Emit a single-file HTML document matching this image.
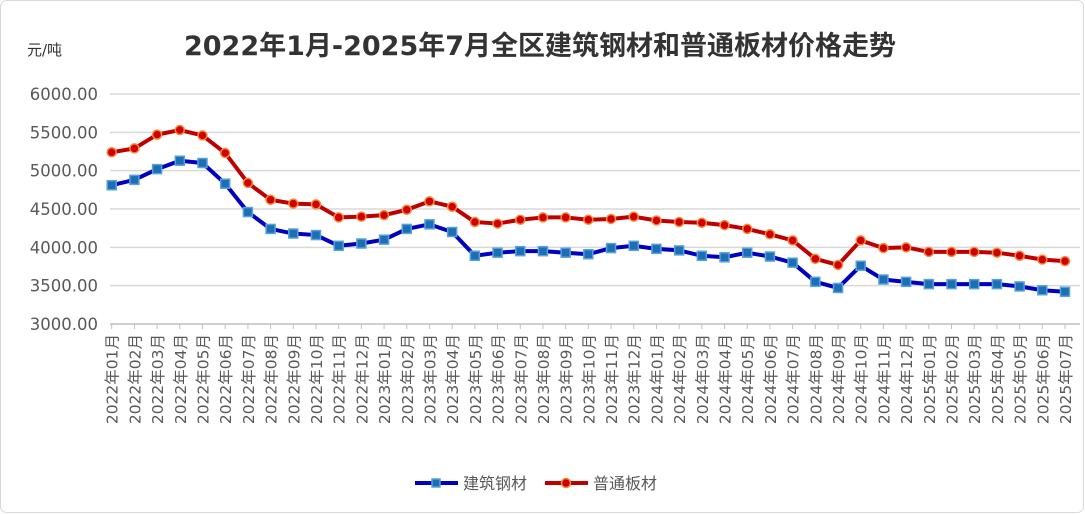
<!DOCTYPE html>
<html><head><meta charset="utf-8"><style>
body{margin:0;background:#fff}
svg{display:block;font-family:"DejaVu Sans","Noto Sans CJK SC",sans-serif}
</style></head><body>
<svg id="c" width="1085" height="514">
<rect x="0.5" y="0.5" width="1083" height="512" rx="6" fill="#fff" stroke="#d9d9d9"/>
<text x="540" y="55" text-anchor="middle" font-size="27" font-weight="bold" fill="#333">2022年1月-2025年7月全区建筑钢材和普通板材价格走势</text>
<text x="27" y="55" font-size="15" fill="#333">元/吨</text>
<g id="grid"></g><g id="xl"></g><g id="series"></g>
<g>
<g>
<line x1="415" y1="483" x2="458" y2="483" stroke="#0000c0" stroke-width="4"/>
<rect x="432" y="479" width="8" height="8" fill="#1a6fb5" stroke="#5aa0d8" stroke-width="1.5"/>
<text x="463" y="489" font-size="16" fill="#595959">建筑钢材</text></g>
<g>
<line x1="545" y1="483" x2="588" y2="483" stroke="#c00000" stroke-width="4"/>
<circle cx="566" cy="483" r="4.5" fill="#d00000" stroke="#f58a3a" stroke-width="1.5"/>
<text x="593" y="489" font-size="16" fill="#595959">普通板材</text></g>
</g>
</svg>
<script>
const categories=[];for(let y=2022;y<=2025;y++)for(let m=1;m<=12;m++){if(y===2025&&m>7)break;categories.push(y+'年'+String(m).padStart(2,'0')+'月');}
const rebar=[4810,4880,5020,5130,5100,4830,4460,4240,4180,4160,4020,4050,4100,4240,4300,4200,3890,3930,3950,3950,3930,3910,3990,4020,3980,3960,3890,3870,3930,3880,3800,3550,3470,3760,3580,3550,3520,3520,3520,3520,3490,3440,3420];
const plate=[5240,5290,5470,5530,5460,5230,4840,4620,4570,4560,4390,4400,4420,4490,4600,4530,4330,4310,4360,4390,4390,4360,4370,4400,4350,4330,4320,4290,4240,4170,4090,3850,3770,4090,3990,4000,3940,3940,3940,3930,3890,3840,3820];
const yTicks=[3000,3500,4000,4500,5000,5500,6000];
const NS='http://www.w3.org/2000/svg';
const X0=111.7,X1=1065,Y0=324,Y1=94,VMIN=3000,VMAX=6000;
const xs=i=>X0+i*(X1-X0)/(categories.length-1);
const ys=v=>Y0-(v-VMIN)/(VMAX-VMIN)*(Y0-Y1);
function mk(t,a,p){const e=document.createElementNS(NS,t);for(const k in a)e.setAttribute(k,a[k]);p.appendChild(e);return e;}
const grid=document.getElementById('grid');
yTicks.forEach(v=>{
 const l=mk('line',{x1:110,x2:1080,y1:ys(v),y2:ys(v),stroke:v===VMIN?'#bfbfbf':'#d9d9d9','stroke-width':1.5},grid);
 
 
 const t=mk('text',{x:98,y:ys(v)+6,'text-anchor':'end','font-size':16.5,fill:'#595959'},grid);
 t.textContent=v.toFixed(2);
 
 
});
const xl=document.getElementById('xl');
categories.forEach((c,i)=>{
 const x=xs(i);
 const tk=mk('line',{x1:x,x2:x,y1:Y0,y2:Y0+5,stroke:'#bfbfbf'},xl);
 
 
 const t=mk('text',{x:0,y:0,'text-anchor':'end','font-size':15.5,fill:'#595959',transform:`translate(${x+6},${Y0+10}) rotate(-90)`},xl);
 t.textContent=c;
 
 
});
const sg=document.getElementById('series');
function draw(data,color,name,square){
 const p=mk('polyline',{points:data.map((v,i)=>xs(i)+','+ys(v)).join(' '),fill:'none',stroke:color,'stroke-width':4,'stroke-linejoin':'round'},sg);
 
 
 data.forEach((v,i)=>{
  let m;
  if(square)m=mk('rect',{x:xs(i)-4.5,y:ys(v)-4.5,width:9,height:9,fill:'#1a6fb5',stroke:'#5aa0d8','stroke-width':1.5},sg);
  else m=mk('circle',{cx:xs(i),cy:ys(v),r:4.5,fill:'#d00000',stroke:'#f58a3a','stroke-width':1.5},sg);
  
  
 });
}
draw(plate,'#c00000','plate',false);
draw(rebar,'#0000c0','rebar',true);
</script>
</body></html>
